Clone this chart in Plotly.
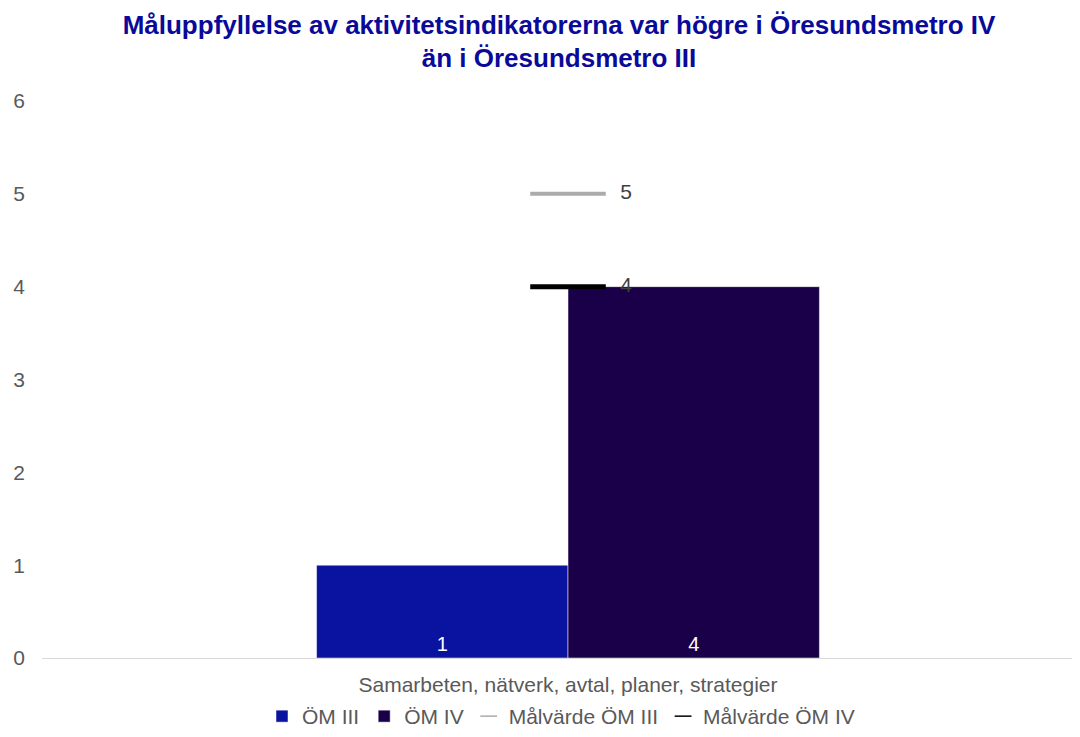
import plotly.graph_objects as go

category = ["Samarbeten, nätverk, avtal, planer, strategier"]
om3_values = [1]
om4_values = [4]
target_om3 = [5]
target_om4 = [4]

FONT = "Liberation Sans, Arial, sans-serif"
GREY_TEXT = "#595959"
OM3_COLOR = "#0A12A0"
OM4_COLOR = "#1A0048"
TARGET3_COLOR = "#ABABAB"
TARGET4_COLOR = "#000000"

target_label = "\u00a0\u00a0\u00a0%{y}"

fig = go.Figure()
fig.add_bar(
    name="ÖM III",
    x=category,
    y=om3_values,
    marker_color=OM3_COLOR,
    text=om3_values,
    textposition="inside",
    insidetextanchor="start",
    textfont={"color": "white", "size": 20},
)
fig.add_bar(
    name="ÖM IV",
    x=category,
    y=om4_values,
    marker_color=OM4_COLOR,
    text=om4_values,
    textposition="inside",
    insidetextanchor="start",
    textfont={"color": "white", "size": 20},
)
for name, values, color, width in [
    ("Målvärde ÖM III", target_om3, TARGET3_COLOR, 4),
    ("Målvärde ÖM IV", target_om4, TARGET4_COLOR, 5),
]:
    fig.add_scatter(
        name=name,
        x=category,
        y=values,
        mode="markers+text",
        showlegend=False,
        legendgroup=name,
        marker={"symbol": "line-ew", "size": 54, "line": {"color": color, "width": width}},
        texttemplate=target_label,
        textposition="middle right",
        textfont={"color": "#404040", "size": 21},
    )
    # legend entry with a thin short line, like the original
    fig.add_scatter(
        name=name,
        x=[None],
        y=[None],
        mode="markers",
        legendgroup=name,
        marker={"symbol": "line-ew", "size": 12, "line": {"color": color, "width": 1.5}},
    )

# page body adds an 8px offset, so the figure is 8px smaller than the window
fig.update_layout(
    width=1072,
    height=729,
    template="plotly_white",
    barmode="group",
    bargap=0.522,
    bargroupgap=0,
    margin={"l": 34, "r": 0, "t": 93, "b": 79},
    paper_bgcolor="white",
    plot_bgcolor="white",
    font={"family": FONT, "color": GREY_TEXT, "size": 21},
    title={
        "text": "<b>Måluppfyllelse av aktivitetsindikatorerna var högre i Öresundsmetro IV<br>än i Öresundsmetro III</b>",
        "x": 0.514,
        "xanchor": "center",
        "y": 0.965,
        "yanchor": "top",
        "font": {"family": FONT, "size": 26, "color": "#0A0A9A"},
    },
    legend={
        "orientation": "h",
        "x": 0.5,
        "xanchor": "center",
        "yref": "container",
        "y": 0.0,
        "yanchor": "bottom",
        "font": {"size": 21, "color": GREY_TEXT},
        "itemwidth": 30,
    },
    showlegend=True,
)
fig.update_yaxes(
    range=[0, 6],
    dtick=1,
    showgrid=False,
    zeroline=False,
    showline=False,
    ticks="",
    automargin=False,
    ticklabelstandoff=16,
    tickfont={"size": 21, "color": GREY_TEXT},
)
# the original plot area runs past the right edge of the picture
fig.update_xaxes(
    range=[-0.5, 0.4867],
    showgrid=False,
    showline=True,
    linecolor="#D9D9D9",
    linewidth=1,
    ticks="",
    automargin=False,
    ticklabelstandoff=8,
    tickfont={"size": 21, "color": GREY_TEXT},
)

fig.write_html("out.html")
